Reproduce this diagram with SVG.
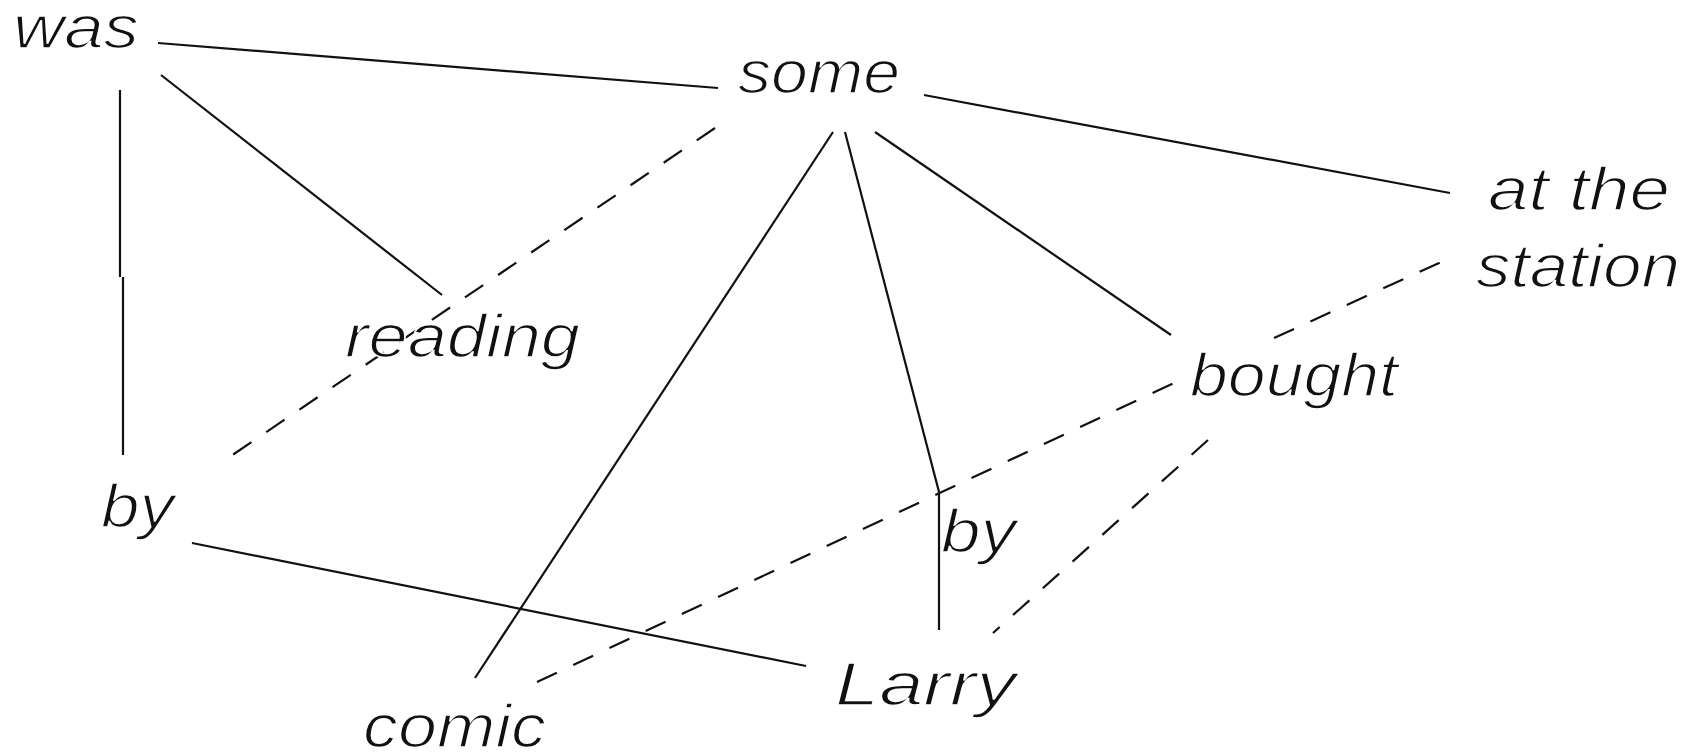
<svg xmlns="http://www.w3.org/2000/svg" width="1702" height="754" viewBox="0 0 1702 754">
<style>
.t{font-family:"Liberation Sans",Arial,sans-serif;font-style:italic;font-size:62px;fill:#111;stroke:#fff;stroke-width:1.6;paint-order:fill}
.s{stroke:#111;stroke-width:2.2;fill:none}
.d{stroke:#111;stroke-width:2.2;fill:none;stroke-dasharray:22 18}
</style>
<rect width="1702" height="754" fill="#fff"/>
<g id="connectors">
<line class="s" x1="158" y1="43" x2="718" y2="88"/>
<line class="s" x1="161" y1="75" x2="442" y2="295"/>
<path class="s" d="M120,90 L120,277 M123,277 L123,455"/>
<line class="s" x1="833" y1="132" x2="475" y2="678"/>
<path class="s" d="M845,132 L939,492 L939,630"/>
<line class="s" x1="875" y1="132" x2="1171" y2="335"/>
<line class="s" x1="924" y1="95" x2="1450" y2="193"/>
<line class="s" x1="192" y1="543" x2="806" y2="666"/>
<line class="d" x1="715" y1="128" x2="228" y2="458"/>
<line class="d" x1="537" y1="682" x2="1174" y2="383"/>
<line class="d" x1="1274" y1="338" x2="1450" y2="258"/>
<line class="d" x1="1208" y1="440" x2="993" y2="633"/>
</g>
<g id="n-was"><text class="t" x="13" y="48" textLength="126" lengthAdjust="spacingAndGlyphs">was</text></g>
<g id="n-some"><text class="t" x="738" y="93" textLength="162" lengthAdjust="spacingAndGlyphs">some</text></g>
<g id="n-atthestation"><text class="t" x="1488" y="210" textLength="182" lengthAdjust="spacingAndGlyphs">at the</text><text class="t" x="1476" y="287" textLength="204" lengthAdjust="spacingAndGlyphs">station</text></g>
<g id="n-reading"><text class="t" x="345" y="357" textLength="235" lengthAdjust="spacingAndGlyphs">reading</text></g>
<g id="n-bought"><text class="t" x="1190" y="396" textLength="208" lengthAdjust="spacingAndGlyphs">bought</text></g>
<g id="n-by1"><text class="t" x="101" y="527" textLength="73" lengthAdjust="spacingAndGlyphs">by</text></g>
<g id="n-by2"><text class="t" x="941" y="552" textLength="75" lengthAdjust="spacingAndGlyphs">by</text></g>
<g id="n-comic"><text class="t" x="363" y="747" textLength="183" lengthAdjust="spacingAndGlyphs">comic</text></g>
<g id="n-larry"><text class="t" x="835" y="705" textLength="181" lengthAdjust="spacingAndGlyphs">Larry</text></g>
</svg>
